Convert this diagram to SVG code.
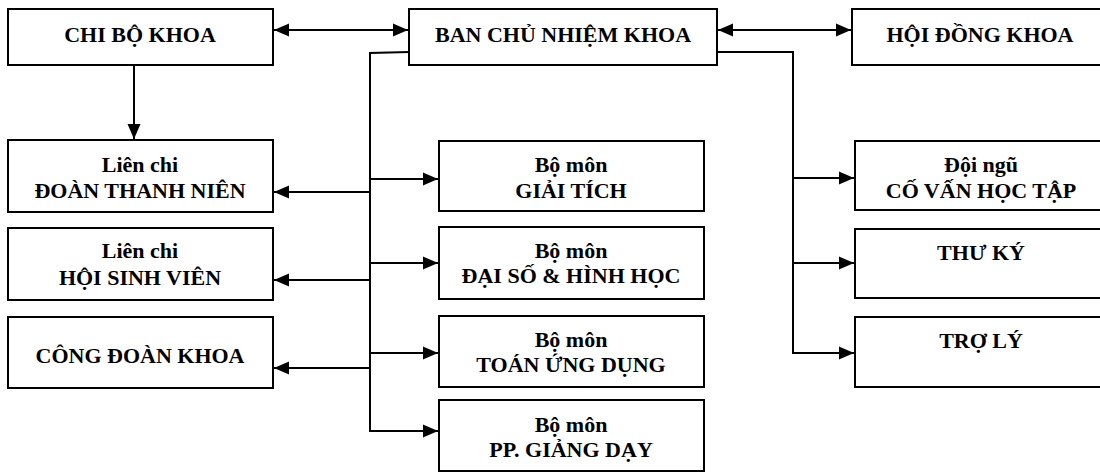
<svg xmlns="http://www.w3.org/2000/svg" width="1100" height="472" viewBox="0 0 1100 472">
<style>
  .box { fill: #fff; stroke: #000; stroke-width: 2; }
  .t { font-family: "Liberation Serif", "Times New Roman", serif; font-weight: bold; font-size: 22px; fill: #000; text-anchor: middle; }
  .c { fill: none; stroke: #000; stroke-width: 2; }
</style>
<defs>
  <marker id="ah" markerUnits="userSpaceOnUse" markerWidth="16" markerHeight="14" refX="15" refY="7" orient="auto-start-reverse">
    <path d="M0,0.5 L15,7 L0,13.5 z" fill="#000"/>
  </marker>
</defs>
<rect width="1100" height="472" fill="#fff"/>

<g id="connectors">
  <line class="c" x1="274" y1="30" x2="408" y2="30" marker-start="url(#ah)" marker-end="url(#ah)"/>
  <line class="c" x1="718" y1="30" x2="851" y2="30" marker-start="url(#ah)" marker-end="url(#ah)"/>
  <line class="c" x1="134" y1="65" x2="134" y2="139" marker-end="url(#ah)"/>
  <path class="c" d="M409,52 L370,53 L370,431 L438,431" marker-end="url(#ah)"/>
  <line class="c" x1="370" y1="192" x2="274" y2="192" marker-end="url(#ah)"/>
  <line class="c" x1="370" y1="280" x2="274" y2="280" marker-end="url(#ah)"/>
  <line class="c" x1="370" y1="368" x2="274" y2="368" marker-end="url(#ah)"/>
  <line class="c" x1="370" y1="179" x2="438" y2="179" marker-end="url(#ah)"/>
  <line class="c" x1="370" y1="263" x2="438" y2="263" marker-end="url(#ah)"/>
  <line class="c" x1="370" y1="353" x2="438" y2="353" marker-end="url(#ah)"/>
  <path class="c" d="M717,52 L793,52 L793,353 L854,353" marker-end="url(#ah)"/>
  <line class="c" x1="793" y1="178" x2="854" y2="178" marker-end="url(#ah)"/>
  <line class="c" x1="793" y1="263" x2="854" y2="263" marker-end="url(#ah)"/>
</g>

<g id="chi-bo-khoa">
  <rect class="box" x="8" y="9" width="265" height="56"/>
  <text class="t" x="140" y="42">CHI BỘ KHOA</text>
</g>
<g id="ban-chu-nhiem-khoa">
  <rect class="box" x="409" y="9" width="308" height="56"/>
  <text class="t" x="563" y="42">BAN CHỦ NHIỆM KHOA</text>
</g>
<g id="hoi-dong-khoa">
  <rect class="box" x="852" y="9" width="260" height="56"/>
  <text class="t" x="980" y="42">HỘI ĐỒNG KHOA</text>
</g>

<g id="doan-thanh-nien">
  <rect class="box" x="8" y="140" width="265" height="72"/>
  <text class="t" x="140" y="172">Liên chi</text>
  <text class="t" x="140" y="198">ĐOÀN THANH NIÊN</text>
</g>
<g id="hoi-sinh-vien">
  <rect class="box" x="8" y="228" width="265" height="72"/>
  <text class="t" x="140" y="258">Liên chi</text>
  <text class="t" x="140" y="285">HỘI SINH VIÊN</text>
</g>
<g id="cong-doan-khoa">
  <rect class="box" x="8" y="317" width="265" height="71"/>
  <text class="t" x="140" y="363">CÔNG ĐOÀN KHOA</text>
</g>

<g id="bm-giai-tich">
  <rect class="box" x="439" y="141" width="265" height="70"/>
  <text class="t" x="571" y="172">Bộ môn</text>
  <text class="t" x="571" y="198">GIẢI TÍCH</text>
</g>
<g id="bm-dai-so">
  <rect class="box" x="439" y="227" width="265" height="72"/>
  <text class="t" x="571" y="258">Bộ môn</text>
  <text class="t" x="571" y="283">ĐẠI SỐ &amp; HÌNH HỌC</text>
</g>
<g id="bm-toan-ung-dung">
  <rect class="box" x="439" y="316" width="265" height="71"/>
  <text class="t" x="571" y="347">Bộ môn</text>
  <text class="t" x="571" y="372">TOÁN ỨNG DỤNG</text>
</g>
<g id="bm-pp-giang-day">
  <rect class="box" x="439" y="400" width="265" height="71"/>
  <text class="t" x="571" y="432">Bộ môn</text>
  <text class="t" x="571" y="457">PP. GIẢNG DẠY</text>
</g>

<g id="doi-ngu-co-van">
  <rect class="box" x="855" y="141" width="260" height="69"/>
  <text class="t" x="981" y="172">Đội ngũ</text>
  <text class="t" x="981" y="198">CỐ VẤN HỌC TẬP</text>
</g>
<g id="thu-ky">
  <rect class="box" x="855" y="229" width="260" height="69"/>
  <text class="t" x="981" y="260">THƯ KÝ</text>
</g>
<g id="tro-ly">
  <rect class="box" x="855" y="317" width="260" height="70"/>
  <text class="t" x="981" y="348">TRỢ LÝ</text>
</g>
</svg>
